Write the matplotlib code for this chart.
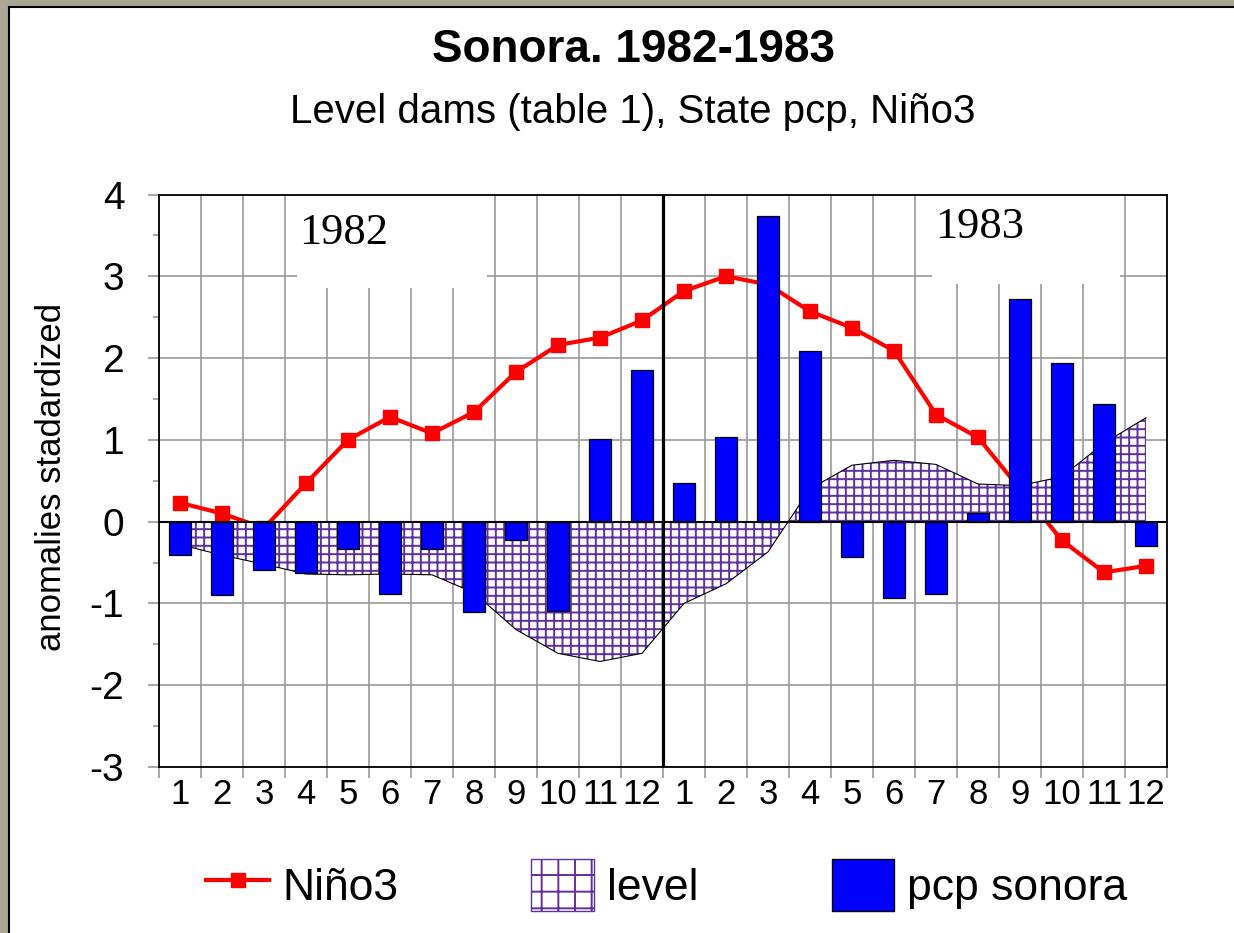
import numpy as np
import matplotlib
matplotlib.use("Agg")
import matplotlib.pyplot as plt
from matplotlib.lines import Line2D
from matplotlib.patches import Patch, Rectangle

# month labels, 1982 then 1983
months = [str(m) for m in range(1, 13)] * 2
# standardized anomalies
nino3 = [0.23, 0.10, -0.08, 0.47, 1.00, 1.28, 1.08, 1.34, 1.83, 2.16, 2.25, 2.46,
         2.82, 3.00, 2.90, 2.57, 2.37, 2.09, 1.31, 1.03, 0.40, -0.23, -0.62, -0.54]
level = [-0.28, -0.41, -0.52, -0.64, -0.65, -0.64, -0.65, -0.87, -1.32, -1.61, -1.71, -1.61,
         -1.00, -0.76, -0.37, 0.40, 0.69, 0.75, 0.70, 0.46, 0.44, 0.55, 0.96, 1.27]
pcp = [-0.41, -0.90, -0.59, -0.63, -0.34, -0.88, -0.33, -1.11, -0.23, -1.09, 1.01, 1.86,
       0.47, 1.04, 3.74, 2.09, -0.43, -0.93, -0.88, 0.11, 2.72, 1.94, 1.44, -0.30]

plt.rcParams['font.family'] = ['Liberation Sans', 'DejaVu Sans']
plt.rcParams['axes.unicode_minus'] = False
plt.rcParams['hatch.color'] = '#6030a0'
plt.rcParams['hatch.linewidth'] = 1.4

purple = '#6030a0'
grid_c = '#9a9a9a'

fig = plt.figure(figsize=(12.34, 9.33), dpi=100)
fig.patch.set_facecolor('#aaa894')
# white panel with thin black edge (textured border on top/left in the original)
fig.patches.append(Rectangle((9 / 1234, -0.05), 1.1, 1 - 7 / 933 + 0.05,
                             transform=fig.transFigure, facecolor='white',
                             edgecolor='black', lw=1.5, zorder=-10))

ax = fig.add_axes([159 / 1234, 1 - 767 / 933, (1167 - 159) / 1234, (767 - 194.5) / 933])
ax.set_zorder(1)
ax.set_facecolor('white')
x = np.arange(len(months))

ax.plot(x, nino3, color='red', lw=3, marker='s', markersize=9.5, zorder=2)
ax.fill_between(x, level, 0, facecolor='white', edgecolor=purple, hatch='++', lw=0, zorder=3)
ax.plot(x, level, color='black', lw=0.8, zorder=3.1)
ax.bar(x, pcp, width=0.53, color='#0000ff', edgecolor='black', lw=0.9, zorder=4)
ax.axhline(0, color='black', lw=1.5, zorder=4.5)
ax.axvline(11.5, color='black', lw=2.3, zorder=6)

ax.set_xlim(-0.5, 23.5)
ax.set_ylim(-3, 4)

# year labels on white boxes
ax.add_patch(Rectangle((2.78, 2.86), 4.52, 1.2, facecolor='white', edgecolor='none', zorder=1))
ax.add_patch(Rectangle((17.9, 2.91), 4.47, 1.2, facecolor='white', edgecolor='none', zorder=1))
ax.text(3.9, 3.53, '1982', family='Liberation Serif', fontsize=32, ha='center', va='center', zorder=1.5)
ax.text(19.04, 3.60, '1983', family='Liberation Serif', fontsize=32, ha='center', va='center', zorder=1.5)

ax.set_xticks(x)
ax.set_xticklabels(months, fontsize=25)
ax.set_xticks(np.arange(-0.5, 24, 1), minor=True)
ax.tick_params(axis='x', which='major', length=0, pad=8)
ax.tick_params(axis='x', which='minor', length=8, width=1.2, color=grid_c, direction='out')

ax.set_yticks(range(-3, 5))
ax.set_yticks(np.arange(-2.5, 4, 1), minor=True)
ax.tick_params(axis='y', which='major', labelsize=28, length=8, width=1.2, color=grid_c, pad=17)
ax.tick_params(axis='y', which='minor', length=4, width=1.2, color=grid_c)

ax.set_axisbelow(True)
ax.grid(which='minor', axis='x', color=grid_c, lw=1.2)
ax.grid(which='major', axis='y', color=grid_c, lw=1.2)
for s in ax.spines.values():
    s.set_color('black')
    s.set_linewidth(1.3)

fig.text(52 / 1234, 1 - 477 / 933, 'anomalies stadardized', rotation=90,
         ha='center', va='center', fontsize=25)
fig.text(633 / 1234, 1 - 50 / 933, 'Sonora. 1982-1983', fontsize=33,
         fontweight='bold', ha='center', va='center')
fig.text(633 / 1234, 1 - 112 / 933, 'Level dams (table 1), State pcp, Niño3',
         fontsize=29, ha='center', va='center')

handles = [
    Line2D([], [], color='red', lw=3, marker='s', markersize=9.5),
    Patch(facecolor='white', edgecolor=purple, hatch='+', lw=1),
    Patch(facecolor='#0000ff', edgecolor='black', lw=1),
]
fig.legend(handles, ['Niño3', 'level', 'pcp sonora'], loc='center',
           bbox_to_anchor=(667 / 1234, 1 - 885 / 933), ncol=3, frameon=False,
           fontsize=32, handlelength=1.4, handleheight=1.4, handletextpad=0.3,
           columnspacing=3.0)

fig.savefig('out.png', dpi=100)
